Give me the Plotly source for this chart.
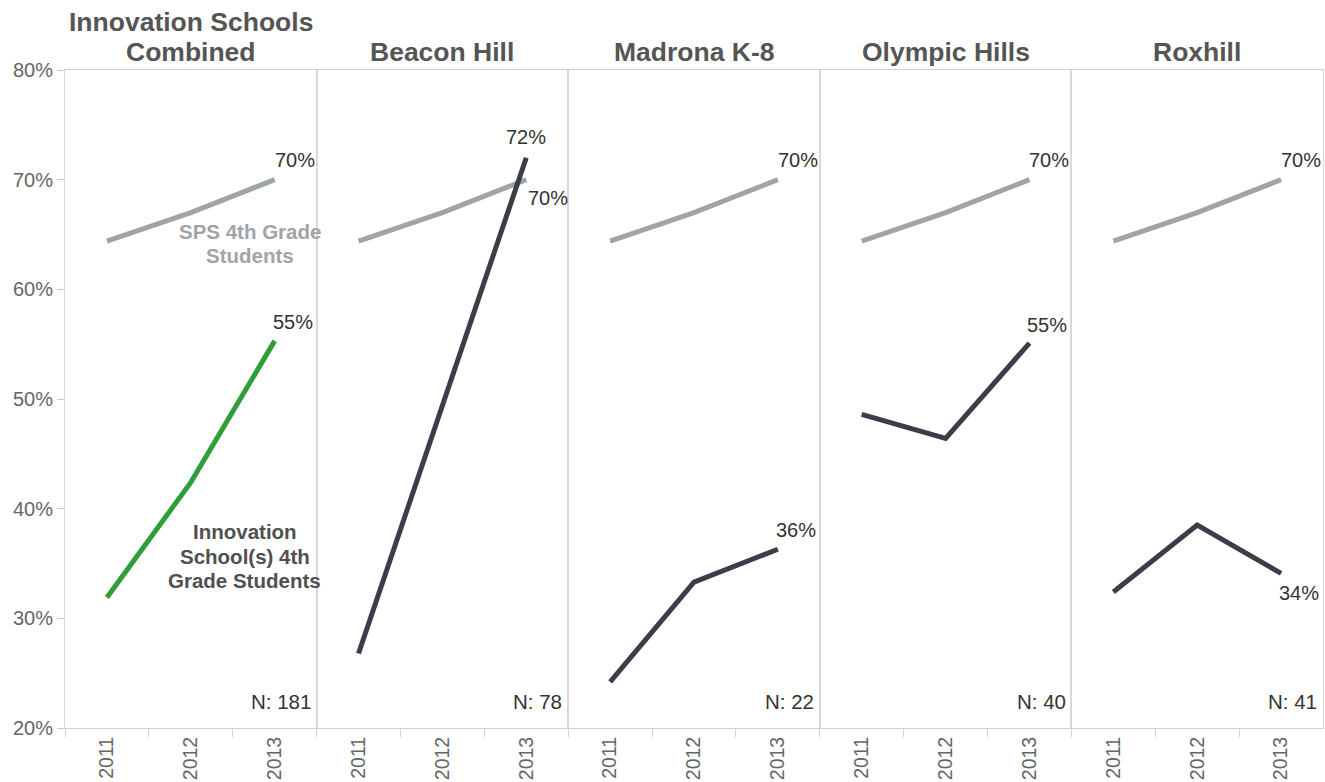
import plotly.graph_objects as go
from plotly.subplots import make_subplots

years = ["2011", "2012", "2013"]
panel_titles = ["Combined", "Beacon Hill", "Madrona K-8", "Olympic Hills", "Roxhill"]
sps_values = [64.4, 67.0, 70.0]
combined_values = [31.9, 42.4, 55.3]
beacon_values = [26.8, None, 72.0]
madrona_values = [24.2, 33.3, 36.3]
olympic_values = [48.6, 46.4, 55.1]
roxhill_values = [32.4, 38.5, 34.1]
school_series = [combined_values, beacon_values, madrona_values, olympic_values, roxhill_values]
n_counts = [181, 78, 22, 40, 41]
y_ticks = [20, 30, 40, 50, 60, 70, 80]
y_ticktext = ["20%", "30%", "40%", "50%", "60%", "70%", "80%"]

SPS_COLOR = "#9fa4a6"
DARK = "#3b3d48"
GREEN = "#2f9e38"
FONT = "Liberation Sans, Arial, sans-serif"

# label placement (style): (xanchor, xshift, yshift)
sps_label_style = [("left", -2, 20), ("left", 0, -18), ("left", -2, 20), ("left", -2, 20), ("left", -2, 20)]
school_label_style = [("left", -4, 19), ("center", 0, 21), ("left", -4, 19), ("left", -4, 18), ("left", -4, -20)]

fig = make_subplots(rows=1, cols=5, horizontal_spacing=0)

last_idx = len(years) - 1  # category position of final year

annotations = []
for i in range(5):
    col = i + 1
    xr = "x" if i == 0 else f"x{i+1}"
    yr = "y" if i == 0 else f"y{i+1}"
    fig.add_trace(go.Scatter(
        x=years, y=sps_values, mode="lines",
        line=dict(color=SPS_COLOR, width=5),
        showlegend=False, hoverinfo="skip"), row=1, col=col)
    vals = school_series[i]
    fig.add_trace(go.Scatter(
        x=years, y=vals, mode="lines", connectgaps=True,
        line=dict(color=GREEN if i == 0 else DARK, width=5),
        showlegend=False, hoverinfo="skip"), row=1, col=col)
    xa, xs, ys = sps_label_style[i]
    annotations.append(dict(
        text=f"{sps_values[last_idx]:.0f}%", xref=xr, yref=yr, x=last_idx, y=sps_values[last_idx],
        xanchor=xa, yanchor="middle", xshift=xs, yshift=ys, showarrow=False,
        font=dict(size=20, color="#333333", family=FONT)))
    xa, xs, ys = school_label_style[i]
    annotations.append(dict(
        text=f"{vals[last_idx]:.0f}%", xref=xr, yref=yr, x=last_idx, y=vals[last_idx],
        xanchor=xa, yanchor="middle", xshift=xs, yshift=ys, showarrow=False,
        font=dict(size=20, color="#333333", family=FONT)))

for i in range(5):
    xa = "xaxis" if i == 0 else f"xaxis{i+1}"
    ya = "yaxis" if i == 0 else f"yaxis{i+1}"
    fig.layout[xa].update(
        type="category", categoryorder="array", categoryarray=years,
        range=[-0.5, 2.5], tickson="boundaries", ticks="outside", ticklen=8,
        tickcolor="#d0d0d0", tickangle=-90, showgrid=False, zeroline=False,
        showline=True, mirror=True, linecolor="#d0d0d0", linewidth=1,
        tickfont=dict(size=19.5, color="#666666", family=FONT), fixedrange=True)
    fig.layout[ya].update(
        range=[20, 80], tickvals=y_ticks, ticktext=y_ticktext,
        showticklabels=(i == 0), ticks="outside" if i == 0 else "", ticklen=7,
        tickcolor="#c8c8c8", showgrid=False, zeroline=False,
        showline=True, mirror=True, linecolor="#d9d9d9", linewidth=1,
        tickfont=dict(size=20, color="#666666", family=FONT), fixedrange=True)

for i in range(5):
    xd = "x domain" if i == 0 else f"x{i+1} domain"
    yd = "y domain" if i == 0 else f"y{i+1} domain"
    annotations.append(dict(
        text=f"<b>{panel_titles[i]}</b>", xref=xd, yref="paper", x=0.5, y=1.027,
        xanchor="center", yanchor="middle", showarrow=False,
        font=dict(size=26.5, color="#555555", family=FONT)))
    annotations.append(dict(
        text=f"N: {n_counts[i]}", xref=xd, yref=yd, x=0.985, y=0.04,
        xanchor="right", yanchor="middle", showarrow=False,
        font=dict(size=20.5, color="#333333", family=FONT)))

annotations.append(dict(
    text="<b>Innovation Schools</b>", xref="x domain", yref="paper", x=0.5, y=1.073,
    xanchor="center", yanchor="middle", showarrow=False,
    font=dict(size=26.5, color="#555555", family=FONT)))

sps_lines = ["SPS 4th Grade", "Students"]
for k, line in enumerate(sps_lines):
    annotations.append(dict(
        text=f"<b>{line}</b>", xref="x domain", yref="y domain",
        x=0.734, y=0.736, yshift=12 - 24 * k, xanchor="center", yanchor="middle",
        showarrow=False, font=dict(size=20.5, color="#a0a4a6", family=FONT)))

innov_lines = ["Innovation", "School(s) 4th", "Grade Students"]
for k, line in enumerate(innov_lines):
    annotations.append(dict(
        text=f"<b>{line}</b>", xref="x domain", yref="y domain",
        x=0.714, y=0.261, yshift=24.5 - 24.5 * k, xanchor="center", yanchor="middle",
        showarrow=False, font=dict(size=20.5, color="#505050", family=FONT)))

fig.update_layout(
    width=1325, height=782,
    margin=dict(l=65, r=2, t=70, b=54),
    paper_bgcolor="white", plot_bgcolor="white",
    annotations=annotations,
    font=dict(family=FONT),
)

fig.write_html("out.html", config={"displayModeBar": False},
               post_script="document.body.style.margin='0px';")
